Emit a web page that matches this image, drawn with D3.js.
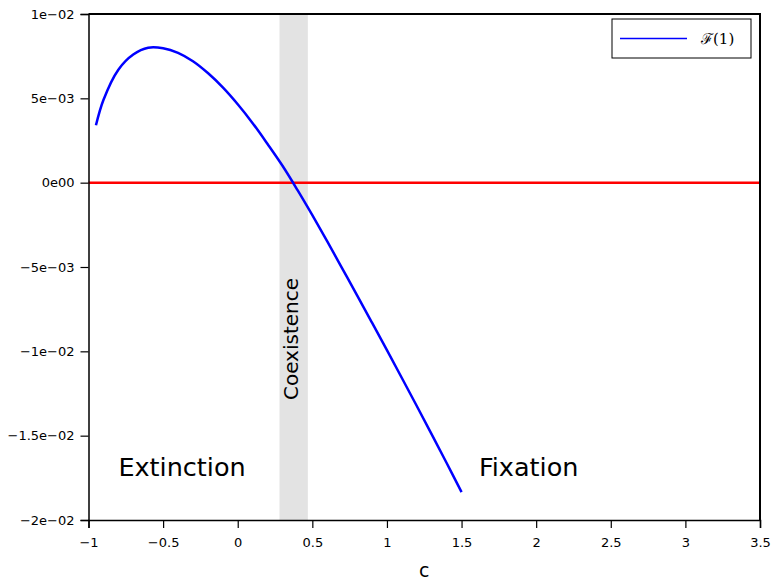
<!DOCTYPE html>
<html>
<head>
<meta charset="utf-8">
<script src="https://cdn.jsdelivr.net/npm/d3@7"></script>
<style>
  body { margin: 0; background: #fff; }
  text { font-family: "DejaVu Sans", sans-serif; }
</style>
</head>
<body>
<div id="chart"></div>
<script>
const cValues = [-0.95, -0.9, -0.8, -0.7, -0.6, -0.5, -0.4, -0.3, -0.2, -0.1, 0,
                 0.1, 0.2, 0.3, 0.4, 0.5, 0.6, 0.7, 0.8, 0.9, 1.0, 1.1, 1.2, 1.3, 1.4, 1.5];
const fValues = [0.0034, 0.0049, 0.0067, 0.0076, 0.0080, 0.00797, 0.0077, 0.0072, 0.0065, 0.00565, 0.00465,
                 0.00353, 0.00229, 0.00100, -0.00043, -0.00193, -0.00348, -0.00508, -0.00668, -0.0083, -0.00993,
                 -0.01158, -0.01324, -0.01492, -0.01662, -0.01835];
const coexistBand = [0.28, 0.47];
const xTicks = [-1, -0.5, 0, 0.5, 1, 1.5, 2, 2.5, 3, 3.5];
const yTicks = [0.01, 0.005, 0, -0.005, -0.01, -0.015, -0.02];
const yTickLabels = ['1e\u221202', '5e\u221203', '0e00', '\u22125e\u221203', '\u22121e\u221202', '\u22121.5e\u221202', '\u22122e\u221202'];
const regionLabels = [
  {text: 'Extinction', c: -0.373, v: -0.0174},
  {text: 'Fixation', c: 1.95, v: -0.0174}
];

const width = 771;
const height = 583;
const margin = {left: 88.5, top: 14, right: 11, bottom: 63};

const svg = d3.select('#chart')
              .append('svg')
              .attr('width', width)
              .attr('height', height);

const x = d3.scaleLinear()
            .domain([-1, 3.5])
            .range([margin.left, width - margin.right]);

const y = d3.scaleLinear()
            .domain([-0.02, 0.01])
            .range([height - margin.bottom, margin.top]);

// coexistence band
svg.append('rect')
   .attr('x', x(coexistBand[0]))
   .attr('y', y(0.01))
   .attr('width', x(coexistBand[1]) - x(coexistBand[0]))
   .attr('height', y(-0.02) - y(0.01))
   .attr('fill', '#e3e3e3');

// zero line
svg.append('line')
   .attr('x1', x(-1))
   .attr('x2', x(3.5))
   .attr('y1', y(0))
   .attr('y2', y(0))
   .attr('stroke', '#ff0000')
   .attr('stroke-width', 2.5);

const line = d3.line()
               .x((d, i) => x(cValues[i]))
               .y((d) => y(d))
               .curve(d3.curveCatmullRom);

svg.append('path')
   .datum(fValues)
   .attr('d', line)
   .attr('fill', 'none')
   .attr('stroke', '#0000ff')
   .attr('stroke-width', 2.5);

// axes
const xMinor = d3.range(-1, 3.5001, 0.1);
const yMinor = d3.range(-0.02, 0.01001, 0.001);

const xAxis = svg.append('g')
   .attr('transform', 'translate(0,' + y(-0.02) + ')');
xAxis.call(d3.axisBottom(x).tickValues(xMinor).tickSize(5).tickFormat(''));
xAxis.call(d3.axisBottom(x).tickValues(xTicks).tickSize(8).tickPadding(6)
          .tickFormat((d) => String(d).replace('-', '\u2212')));
xAxis.selectAll('text').attr('font-size', 13).attr('dy', '1em');

const yAxis = svg.append('g')
   .attr('transform', 'translate(' + x(-1) + ',0)');
yAxis.call(d3.axisLeft(y).tickValues(yMinor).tickSize(3).tickFormat(''));
yAxis.call(d3.axisLeft(y).tickValues(yTicks).tickSize(8).tickPadding(6)
          .tickFormat((d, i) => yTickLabels[i]));
yAxis.selectAll('text').attr('font-size', 13);

svg.selectAll('.domain').attr('stroke-width', 1.5);
svg.selectAll('.tick line').attr('stroke-width', 1.2);

// top and right frame
svg.append('path')
   .attr('d', 'M' + x(-1) + ',' + y(0.01) + 'H' + x(3.5) + 'V' + y(-0.02))
   .attr('fill', 'none')
   .attr('stroke', '#000')
   .attr('stroke-width', 2);

// region labels
svg.selectAll('.region')
   .data(regionLabels)
   .enter()
   .append('text')
   .attr('class', 'region')
   .attr('x', (d) => x(d.c))
   .attr('y', (d) => y(d.v))
   .attr('text-anchor', 'middle')
   .attr('font-size', 25.5)
   .text((d) => d.text);

svg.append('text')
   .attr('transform', 'translate(298,' + y(-0.00927) + ') rotate(-90)')
   .attr('text-anchor', 'middle')
   .attr('font-size', 20)
   .text('Coexistence');

// x axis title
svg.append('text')
   .attr('x', x(1.25))
   .attr('y', 577)
   .attr('text-anchor', 'middle')
   .attr('font-size', 19)
   .text('c');

// legend
const legend = svg.append('g')
   .attr('transform', 'translate(612,19)');
legend.append('rect')
   .attr('width', 139)
   .attr('height', 39)
   .attr('fill', '#fff')
   .attr('stroke', '#000')
   .attr('stroke-width', 1);
legend.append('line')
   .attr('x1', 8)
   .attr('x2', 75)
   .attr('y1', 19.5)
   .attr('y2', 19.5)
   .attr('stroke', '#0000ff')
   .attr('stroke-width', 1.5);
legend.append('text')
   .attr('x', 89)
   .attr('y', 25)
   .attr('font-size', 15)
   .style('font-family', '"DejaVu Serif", serif')
   .text('\u2131(1)');
</script>
</body>
</html>
